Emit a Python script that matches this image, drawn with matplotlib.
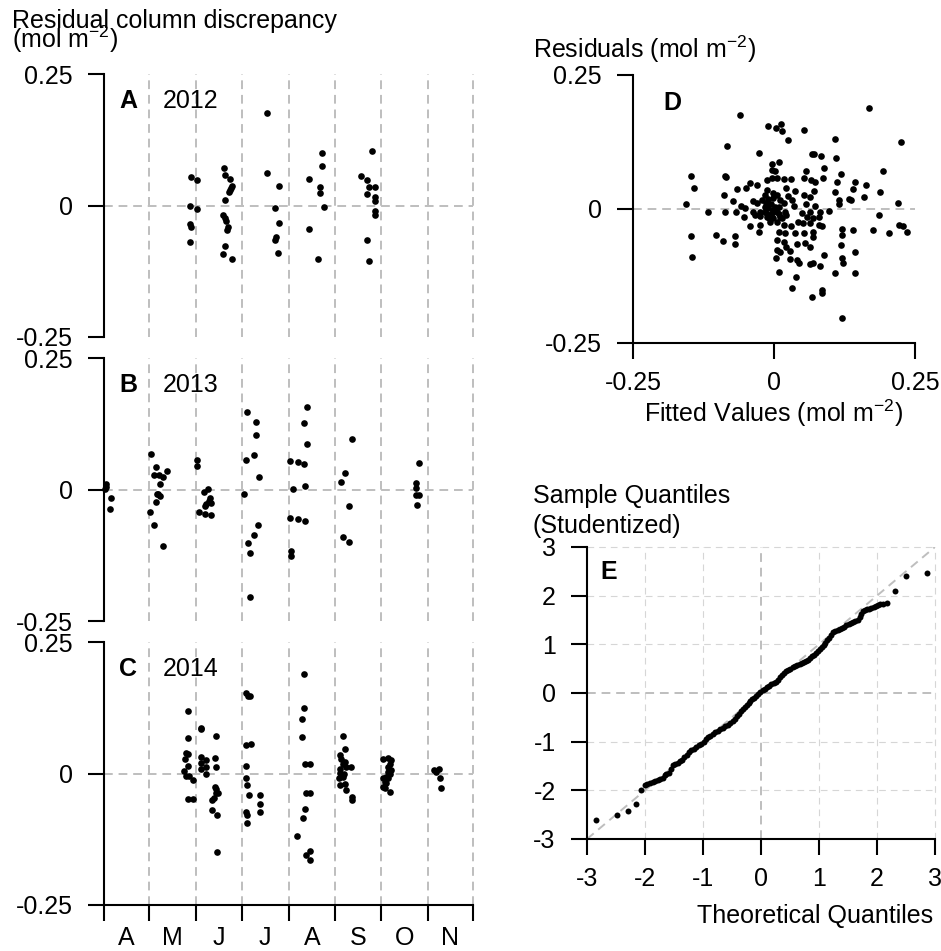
import numpy as np
import pandas as pd
import matplotlib
matplotlib.use('Agg')
from matplotlib import pyplot as plt

plt.rcParams['font.family'] = 'Liberation Sans'
plt.rcParams['font.size'] = 18
plt.rcParams['mathtext.fontset'] = 'custom'
plt.rcParams['mathtext.rm'] = 'Liberation Sans'
plt.rcParams['mathtext.it'] = 'Liberation Sans:italic'
plt.rcParams['mathtext.bf'] = 'Liberation Sans:bold'
plt.rcParams['axes.unicode_minus'] = False

# residual column discrepancy vs day of year (mol m-2)
doy_2012 = [148.7, 152.7, 147.6, 152.7, 148.1, 148.7, 147.6,
            170.1, 170.8, 174.1, 175.9, 175.2, 174.5, 173.6, 171.0, 169.7, 170.8, 171.9, 173.0, 172.3, 170.8, 169.7, 175.9,
            199.0, 198.8, 206.7, 204.1, 206.7, 204.9, 204.1, 206.0,
            226.8, 234.9, 234.9, 233.6, 233.6, 236.2, 226.8, 232.7,
            268.2, 261.1, 264.9, 266.0, 270.0, 264.9, 270.0, 270.0, 270.0, 270.0, 264.9, 266.0]
res_2012 = [0.055, 0.049, -0.001, -0.006, -0.035, -0.040, -0.070,
            0.072, 0.058, 0.051, 0.037, 0.034, 0.030, 0.025, 0.011, -0.018, -0.024, -0.030, -0.040, -0.046, -0.077, -0.092, -0.102,
            0.175, 0.061, 0.037, -0.004, -0.033, -0.060, -0.065, -0.091,
            0.051, 0.100, 0.076, 0.035, 0.023, -0.003, -0.045, -0.101,
            0.104, 0.057, 0.049, 0.035, 0.035, 0.022, 0.017, 0.009, -0.011, -0.018, -0.066, -0.106]

doy_2013 = [92.1, 92.5, 91.9, 95.8, 94.7,
            122.1, 125.6, 123.8, 127.1, 130.0, 132.9, 127.8, 126.3, 127.8, 126.7, 125.6, 121.6, 123.8, 129.8,
            152.7, 152.7, 159.8, 156.9, 160.9, 160.2, 158.7, 161.5, 157.6, 153.6, 157.6, 162.0,
            185.8, 191.7, 191.7, 190.0, 184.9, 193.3, 183.6, 192.8, 190.0, 186.0, 187.8, 187.8,
            225.0, 223.0, 225.0, 213.8, 219.1, 223.0, 223.9, 215.7, 214.0, 219.1, 223.9, 214.6, 214.9,
            255.0, 250.1, 247.9, 253.0, 249.0, 253.0,
            299.1, 297.1, 297.1, 297.5, 299.3, 298.2]
res_2013 = [0.010, 0.005, 0.001, -0.016, -0.037,
            0.068, 0.042, 0.027, 0.028, 0.024, 0.035, 0.010, -0.008, -0.013, -0.009, -0.024, -0.043, -0.068, -0.107,
            0.057, 0.044, 0.001, -0.004, -0.017, -0.022, -0.027, -0.025, -0.031, -0.042, -0.047, -0.049,
            0.147, 0.129, 0.103, 0.065, 0.056, 0.023, -0.008, -0.067, -0.087, -0.102, -0.120, -0.204,
            0.157, 0.127, 0.087, 0.054, 0.053, 0.048, 0.007, 0.001, -0.054, -0.057, -0.059, -0.117, -0.127,
            0.096, 0.032, 0.014, -0.032, -0.091, -0.099,
            0.050, 0.012, 0.003, -0.011, -0.011, -0.029]

doy_2014 = [146.8, 146.8, 145.4, 146.8, 144.8, 146.8, 144.1, 145.4, 147.2, 149.8, 146.5, 149.8,
            155.4, 154.9, 154.9, 158.7, 154.9, 158.7, 154.9, 158.7,
            164.8, 164.2, 165.3, 164.4, 164.8, 165.3, 166.4, 163.5, 162.6, 162.6, 165.7, 165.7,
            185.1, 186.4, 187.3, 184.7, 188.0, 185.1, 184.7, 185.6, 186.9, 185.1, 185.6, 185.8, 193.9, 193.9, 193.9,
            223.0, 223.0, 221.9, 221.9, 223.7, 227.0, 224.8, 227.0, 223.7, 222.6, 218.6, 227.0, 224.8, 227.0,
            248.8, 250.1, 246.8, 247.9, 250.1, 249.0, 254.5, 246.8, 251.2, 247.3, 249.5, 246.4, 249.0, 247.3,
            250.1, 251.2, 255.2, 255.2,
            275.5, 278.8, 281.0, 279.9, 278.8, 281.0, 279.9, 277.7, 278.8, 276.6, 277.7, 275.5, 276.6, 279.9,
            275.5, 278.8,
            309.0, 312.5, 312.9, 314.0, 310.7]
res_2014 = [0.119, 0.068, 0.039, 0.038, 0.027, 0.014, 0.004, -0.004, -0.004, -0.013, -0.049, -0.049,
            0.087, 0.085, 0.032, 0.025, 0.020, 0.013, 0.008, 0.000,
            0.071, 0.029, 0.012, -0.025, -0.030, -0.037, -0.038, -0.047, -0.051, -0.070, -0.079, -0.149,
            0.153, 0.148, 0.147, 0.055, 0.057, 0.015, -0.009, -0.021, -0.041, -0.073, -0.079, -0.095, -0.041, -0.058, -0.073,
            0.190, 0.125, 0.103, 0.070, 0.019, 0.018, -0.037, -0.037, -0.067, -0.084, -0.118, -0.147, -0.155, -0.165,
            0.072, 0.046, 0.035, 0.027, 0.022, 0.019, 0.013, 0.008, 0.013, 0.001, 0.000, -0.009, -0.006, -0.022,
            -0.020, -0.032, -0.044, -0.051,
            0.028, 0.030, 0.025, 0.019, 0.013, 0.006, 0.000, -0.006, -0.009, -0.016, -0.019, -0.025, -0.028, -0.035,
            -0.009, 0.003,
            0.006, 0.009, -0.008, -0.027, 0.003]

# residuals vs fitted values (mol m-2)
fitted = [0.169, -0.060, -0.011, 0.012, 0.004, 0.014, 0.053, 0.024, 0.109, 0.225,
          -0.084, -0.027, 0.068, 0.071, 0.083, 0.110, 0.008, -0.003, 0.089, -0.004,
          0.002, 0.193, 0.056, 0.118, -0.147, -0.086, -0.085, -0.004, 0.005, 0.031,
          0.018, 0.054, -0.012, 0.066, 0.086, 0.072, 0.112, 0.143, -0.042, -0.030,
          0.163, -0.142, -0.065, -0.050, -0.013, 0.021, 0.038, 0.071, 0.140, 0.109,
          0.188, -0.089, -0.016, 0.005, 0.025, 0.053, 0.063, 0.160, 0.133, 0.137,
          0.115, -0.072, -0.037, -0.022, -0.010, -0.001, 0.011, 0.032, -0.156, -0.059,
          -0.051, -0.031, -0.015, -0.006, 0.017, 0.036, 0.056, 0.073, 0.116, 0.220,
          -0.117, -0.087, -0.067, -0.037, -0.024, -0.016, -0.012, -0.001, 0.005, 0.020,
          0.049, 0.064, 0.082, 0.098, -0.053, -0.033, -0.025, -0.013, -0.001, 0.011,
          0.022, 0.058, 0.070, 0.079, 0.186, -0.043, -0.025, -0.007, 0.017, 0.031,
          0.043, 0.052, 0.064, 0.079, 0.085, 0.120, 0.140, 0.176, 0.204, 0.222,
          0.228, 0.235, -0.147, -0.027, 0.008, 0.020, 0.037, 0.053, 0.070, 0.120,
          -0.102, -0.069, 0.005, 0.017, 0.070, -0.091, -0.069, 0.040, 0.055, 0.063,
          0.119, 0.022, 0.005, 0.011, 0.028, 0.143, 0.089, -0.145, 0.004, 0.028,
          0.040, 0.045, 0.120, 0.123, 0.064, 0.070, 0.082, 0.008, 0.108, 0.144,
          0.039, 0.032, 0.085, 0.085, 0.068, 0.121,
          -0.010, -0.004, 0.002, -0.016, 0.008, -0.008, 0.005, -0.002, 0.009, 0.014]
resid = [0.189, 0.176, 0.154, 0.159, 0.152, 0.146, 0.147, 0.128, 0.130, 0.125,
         0.118, 0.105, 0.102, 0.102, 0.099, 0.096, 0.088, 0.084, 0.077, 0.073,
         0.071, 0.071, 0.070, 0.065, 0.062, 0.061, 0.059, 0.057, 0.057, 0.056,
         0.056, 0.057, 0.054, 0.054, 0.057, 0.051, 0.051, 0.051, 0.049, 0.045,
         0.044, 0.039, 0.037, 0.039, 0.035, 0.039, 0.034, 0.034, 0.038, 0.032,
         0.032, 0.026, 0.027, 0.026, 0.024, 0.026, 0.023, 0.023, 0.018, 0.017,
         0.017, 0.014, 0.014, 0.017, 0.018, 0.020, 0.017, 0.017, 0.009, 0.006,
         0.001, 0.011, 0.011, 0.009, 0.011, 0.006, 0.009, 0.006, 0.009, 0.011,
         -0.005, -0.005, -0.005, -0.005, -0.005, -0.005, -0.009, -0.001, -0.005, -0.005,
         -0.008, -0.005, -0.005, -0.004, -0.014, -0.011, -0.013, -0.014, -0.017, -0.014,
         -0.011, -0.014, -0.016, -0.014, -0.011, -0.031, -0.029, -0.024, -0.029, -0.031,
         -0.024, -0.027, -0.027, -0.030, -0.032, -0.037, -0.039, -0.039, -0.045, -0.030,
         -0.032, -0.042, -0.050, -0.042, -0.042, -0.045, -0.045, -0.045, -0.042, -0.048,
         -0.048, -0.050, -0.058, -0.061, -0.052, -0.060, -0.066, -0.066, -0.064, -0.070,
         -0.068, -0.070, -0.076, -0.081, -0.078, -0.080, -0.086, -0.090, -0.092, -0.093,
         -0.095, -0.100, -0.092, -0.101, -0.102, -0.100, -0.106, -0.118, -0.120, -0.119,
         -0.127, -0.148, -0.151, -0.156, -0.165, -0.204,
         0.001, -0.007, 0.004, 0.004, -0.009, -0.016, -0.025, 0.029, 0.004, -0.017]

# normal QQ plot of studentized residuals
theo_q = [-2.853, -2.480, -2.296, -2.158, -2.067, -1.992,
          -1.963, -1.906, -1.860, -1.820, -1.780, -1.734, -1.688, -1.659, -1.630, -1.590,
          -1.550, -1.516, -1.475, -1.435, -1.389, -1.355, -1.320, -1.274, -1.246, -1.206,
          -1.160, -1.119, -1.074, -1.028, -0.987, -0.947, -0.913, -0.873, -0.827, -0.787,
          -0.746, -0.700, -0.654, -0.614, -0.574, -0.528, -0.488, -0.454, -0.413, -0.373,
          -0.344, -0.310, -0.270, -0.241, -0.212, -0.184, -0.149, -0.115, -0.080, -0.046,
          -0.011, 0.029, 0.063, 0.103, 0.138, 0.172, 0.218, 0.258, 0.293, 0.327,
          0.362, 0.390, 0.425, 0.465, 0.505, 0.545, 0.586, 0.626, 0.666, 0.706,
          0.746, 0.781, 0.809, 0.838, 0.878, 0.919, 0.953, 0.982, 1.010, 1.045,
          1.079, 1.108, 1.137, 1.171, 1.206, 1.240, 1.280, 1.320, 1.355, 1.395,
          1.435, 1.470, 1.510, 1.550, 1.590, 1.625, 1.665, 1.699, 1.722, 1.751,
          1.785, 1.826, 1.866, 1.900, 1.940, 1.981, 2.021, 2.055, 2.101, 2.170,
          2.302, 2.497, 2.859]
sample_q = [-2.613, -2.510, -2.428, -2.271, -1.997, -1.888,
            -1.860, -1.847, -1.833, -1.813, -1.792, -1.772, -1.744, -1.690, -1.655, -1.642,
            -1.560, -1.484, -1.450, -1.430, -1.402, -1.368, -1.313, -1.265, -1.211, -1.176,
            -1.142, -1.108, -1.060, -1.040, -0.999, -0.944, -0.903, -0.876, -0.834, -0.807,
            -0.780, -0.746, -0.711, -0.677, -0.650, -0.616, -0.575, -0.527, -0.479, -0.424,
            -0.376, -0.321, -0.287, -0.253, -0.205, -0.164, -0.130, -0.096, -0.062, -0.021,
            0.014, 0.055, 0.089, 0.123, 0.150, 0.178, 0.205, 0.233, 0.274, 0.321,
            0.369, 0.417, 0.451, 0.479, 0.499, 0.527, 0.547, 0.568, 0.588, 0.609,
            0.629, 0.650, 0.684, 0.725, 0.759, 0.780, 0.821, 0.869, 0.910, 0.944,
            0.978, 1.026, 1.081, 1.135, 1.197, 1.245, 1.265, 1.286, 1.306, 1.327,
            1.354, 1.389, 1.416, 1.436, 1.457, 1.477, 1.491, 1.560, 1.628, 1.683,
            1.696, 1.717, 1.731, 1.751, 1.765, 1.785, 1.799, 1.819, 1.833, 1.853,
            2.086, 2.414, 2.462]

month_labels = ['A', 'M', 'J', 'J', 'A', 'S', 'O', 'N']
month_starts = pd.date_range('2013-04-01', '2013-12-01', freq='MS').dayofyear.values
month_mid = (month_starts[:-1] + month_starts[1:]) / 2
res_ticks = [-0.25, 0, 0.25]
res_ticklabels = ['-0.25', '0', '0.25']
qq_ticks = np.arange(-3, 4)

W, H = 941, 951
GRAY = '#bebebe'
LIGHT = '#d6d6d6'
DASH = (0, (4.5, 3))

fig = plt.figure(figsize=(W / 100, H / 100), dpi=100)


def px_rect(x0, y0, x1, y1):
    # pixel box (top-left origin) -> figure fraction rect
    return [x0 / W, 1 - y1 / H, (x1 - x0) / W, (y1 - y0) / H]


def style_axes(ax):
    for s in ['top', 'right']:
        ax.spines[s].set_visible(False)
    for s in ['left', 'bottom']:
        ax.spines[s].set_linewidth(1.5)
    ax.tick_params(length=11.5, width=1.5, labelsize=18)
    ax.tick_params(axis='y', pad=11)
    ax.tick_params(axis='x', pad=9)


def dots(ax, x, y, ms=4.8):
    ax.plot(x, y, 'o', color='black', ms=ms, mew=0, clip_on=False, zorder=3)


# left column: one panel per year
panels = [(74, 337, 'A', '2012', doy_2012, res_2012),
          (358, 621, 'B', '2013', doy_2013, res_2013),
          (642, 905, 'C', '2014', doy_2014, res_2014)]

for top, bottom, letter, year, doy, res in panels:
    ax = fig.add_axes(px_rect(104, top, 473, bottom))
    ax.set_xlim(month_starts[0], month_starts[-1])
    ax.set_ylim(-0.25, 0.25)
    for m in month_starts[1:]:
        ax.axvline(m, color=GRAY, lw=1.4, ls=DASH, zorder=0, clip_on=False)
    ax.axhline(0, color=GRAY, lw=1.4, ls=DASH, zorder=0)
    dots(ax, doy, res)
    style_axes(ax)
    ax.set_yticks(res_ticks, res_ticklabels)
    if letter == 'C':
        ax.set_xticks(month_starts, [''] * len(month_starts))
        ax.set_xticks(month_mid, month_labels, minor=True)
        ax.tick_params(axis='x', which='minor', length=0, pad=15)
    else:
        ax.spines['bottom'].set_visible(False)
        ax.set_xticks([])
    ax.text(0.041, 0.897, letter, transform=ax.transAxes, fontweight='bold', va='center')
    ax.text(0.16, 0.897, year, transform=ax.transAxes, va='center')

fig.text(12 / W, 1 - 28 / H, 'Residual column discrepancy', va='baseline')
fig.text(12 / W, 1 - 48 / H, r'(mol m$^{-2}$)', va='baseline')

# D: residuals vs fitted
axd = fig.add_axes(px_rect(633, 75, 915, 343))
axd.set_xlim(-0.25, 0.25)
axd.set_ylim(-0.25, 0.25)
axd.axhline(0, color=GRAY, lw=1.4, ls=DASH, zorder=0)
dots(axd, fitted, resid)
style_axes(axd)
axd.set_xticks(res_ticks, res_ticklabels)
axd.set_yticks(res_ticks, res_ticklabels)
axd.text(0.106, 0.896, 'D', transform=axd.transAxes, fontweight='bold', va='center')
fig.text(533 / W, 1 - 58 / H, r'Residuals (mol m$^{-2}$)', va='baseline')
fig.text(774 / W, 1 - 422 / H, r'Fitted Values (mol m$^{-2}$)', ha='center', va='baseline')

# E: QQ plot
axe = fig.add_axes(px_rect(587, 547, 935, 839))
axe.set_xlim(-3, 3)
axe.set_ylim(-3, 3)
for v in qq_ticks[1:]:
    thick = v == 0
    axe.axvline(v, color=GRAY if thick else LIGHT, lw=1.4 if thick else 0.8,
                ls=DASH if thick else (0, (6, 4.5)), zorder=0, clip_on=False)
    axe.axhline(v, color=GRAY if thick else LIGHT, lw=1.4 if thick else 0.8,
                ls=DASH if thick else (0, (6, 4.5)), zorder=0, clip_on=False)
axe.axline((0, 0), slope=1, color=GRAY, lw=1.4, ls=DASH, zorder=1)
dots(axe, theo_q, sample_q, ms=4.3)
style_axes(axe)
axe.set_xticks(qq_ticks, [str(v) for v in qq_ticks])
axe.set_yticks(qq_ticks, [str(v) for v in qq_ticks])
axe.text(0.037, 0.914, 'E', transform=axe.transAxes, fontweight='bold', va='center')
fig.text(533 / W, 1 - 503 / H, 'Sample Quantiles', va='baseline')
fig.text(533 / W, 1 - 533 / H, '(Studentized)', va='baseline')
fig.text(933 / W, 1 - 923 / H, 'Theoretical Quantiles', ha='right', va='baseline')

fig.savefig('out.png', dpi=100)
